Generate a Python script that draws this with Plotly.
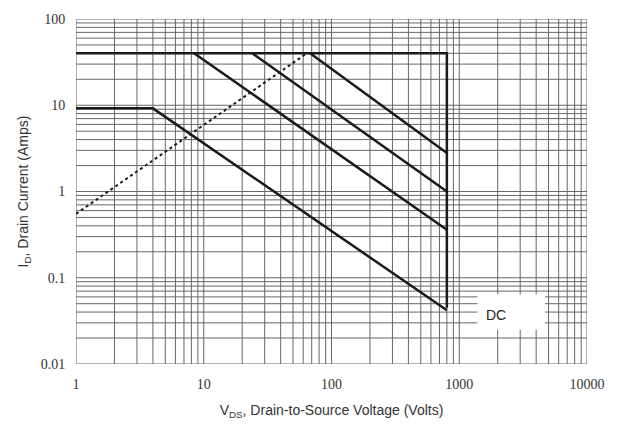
import numpy as np
import plotly.graph_objects as go

# Data
x_ticks = [1, 10, 100, 1000, 10000]
x_ticklabels = ["1", "10", "100", "1000", "10000"]
y_ticks = [0.01, 0.1, 1, 10, 100]
y_ticklabels = ["0.01", "0.1", "1", "10", "100"]

outline_v = [1, 800, 800]
outline_i = [40, 40, 0.045]

dc_v = [1, 4, 800]
dc_i = [9.2, 9.2, 0.042]

pulse1_v = [8.4, 800]
pulse1_i = [40, 0.36]

pulse2_v = [24, 800]
pulse2_i = [40, 1.0]

pulse3_v = [68, 800]
pulse3_i = [40, 2.8]

rds_v = [1, 64]
rds_i = [0.55, 40]

label_box_v = [1390, 4700, 4700, 1390, 1390]
label_box_i = [0.0250, 0.0250, 0.0644, 0.0644, 0.0250]
label_text = "DC"
label_v = 1950
label_i = 0.037

line_col = "#1a1a1a"
grid_col = "#666666"

# log grid positions (1..9 per decade)
def log_grid(lo_exp, hi_exp):
    vals = []
    for d in range(lo_exp, hi_exp):
        for k in range(1, 10):
            vals.append(k * 10.0 ** d)
    vals.append(10.0 ** hi_exp)
    return vals

gx = log_grid(0, 4)
gy = log_grid(-2, 2)

fig = go.Figure()

# grid lines as traces
vx, vy = [], []
for v in gx:
    vx += [v, v, None]
    vy += [0.01, 100, None]
hx, hy = [], []
for v in gy:
    hx += [1, 10000, None]
    hy += [v, v, None]
fig.add_trace(go.Scatter(x=vx, y=vy, mode="lines", line=dict(color=grid_col, width=1),
                         hoverinfo="skip", showlegend=False))
fig.add_trace(go.Scatter(x=hx, y=hy, mode="lines", line=dict(color=grid_col, width=1),
                         hoverinfo="skip", showlegend=False))

# white box behind DC label
fig.add_trace(go.Scatter(x=label_box_v, y=label_box_i, mode="lines", fill="toself",
                         fillcolor="white", line=dict(width=0, color="white"),
                         hoverinfo="skip", showlegend=False))

for xs, ys in [(outline_v, outline_i), (dc_v, dc_i), (pulse1_v, pulse1_i),
               (pulse2_v, pulse2_i), (pulse3_v, pulse3_i)]:
    fig.add_trace(go.Scatter(x=xs, y=ys, mode="lines",
                             line=dict(color=line_col, width=2.5), showlegend=False))

fig.add_trace(go.Scatter(x=rds_v, y=rds_i, mode="lines",
                         line=dict(color=line_col, width=2, dash="dot"), showlegend=False))

fig.add_annotation(x=np.log10(label_v), y=np.log10(label_i), xref="x", yref="y",
                   text=label_text, showarrow=False,
                   font=dict(family="Liberation Sans", size=14, color="#222"))

axis_common = dict(type="log", showgrid=False, zeroline=False, showline=False,
                   ticks="outside", ticklen=7, tickcolor="rgba(0,0,0,0)",
                   tickfont=dict(family="Liberation Serif", size=14, color="#333"))

fig.update_xaxes(range=[0, 4], tickvals=x_ticks, ticktext=x_ticklabels,
                 title=dict(text="V<sub>DS</sub>, Drain-to-Source Voltage (Volts)",
                            font=dict(family="Liberation Sans", size=14, color="#333"),
                            standoff=14),
                 **axis_common)
fig.update_yaxes(range=[-2, 2], tickvals=y_ticks, ticktext=y_ticklabels,
                 title=dict(text="I<sub>D</sub>, Drain Current (Amps)",
                            font=dict(family="Liberation Sans", size=14, color="#333"),
                            standoff=8),
                 **axis_common)

fig.update_layout(width=617, height=434, margin=dict(l=76, r=27, t=13, b=70),
                  plot_bgcolor="white", paper_bgcolor="white", showlegend=False)

fig.write_html("out.html")
